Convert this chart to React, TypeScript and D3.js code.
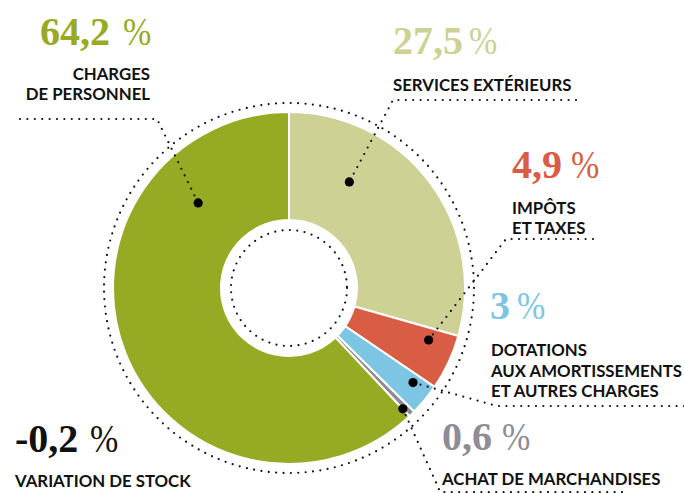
import React from 'react';
import * as d3 from 'd3';

// ---- data ----
const categories = ['services', 'impots', 'dotations', 'achat', 'personnel'];
const valueNumbers = ['27,5', '4,9', '3', '0,6', '64,2'];
const percentSign = '%';
const sliceShares = [29.4, 5.1, 2.9, 0.6, 62.0];
const categoryLabels = [
  ['SERVICES EXTÉRIEURS'],
  ['IMPÔTS', 'ET TAXES'],
  ['DOTATIONS', 'AUX AMORTISSEMENTS', 'ET AUTRES CHARGES'],
  ['ACHAT DE MARCHANDISES'],
  ['CHARGES', 'DE PERSONNEL'],
];
const stockValueNumber = '-0,2';
const stockLabel = 'VARIATION DE STOCK';

// ---- styles / layout ----
const colors = ['#cdd193', '#d95c45', '#7cc6e3', '#8e8c94', '#97aa24'];
const W = 684, H = 493;
const CX = 289, CY = 288;
const R_OUT = 176, R_IN = 68, R_RING = 185, R_INNER_DOTS = 58;

type Ann = {
  vx: number; px: number; vy: number; anchor: 'start' | 'end';
  lx: number; ly: number; lh: number;
  frac: number; r: number;
  leader: [number, number][];
};
const layout: Ann[] = [
  { vx: 393, px: 469, vy: 54, anchor: 'start', lx: 393, ly: 91, lh: 20, frac: 0.28, r: 122, leader: [[576, 100], [393, 100]] },
  { vx: 512, px: 571, vy: 178, anchor: 'start', lx: 512, ly: 214, lh: 20, frac: 0.25, r: 149, leader: [[593, 239], [506, 239]] },
  { vx: 490, px: 517, vy: 319, anchor: 'start', lx: 491, ly: 356, lh: 20.5, frac: 0.3, r: 156, leader: [[684, 406], [497, 406]] },
  { vx: 442, px: 502, vy: 450, anchor: 'start', lx: 442, ly: 485, lh: 20, frac: 0.95, r: 166, leader: [[622, 492], [440, 492], [438, 487]] },
  { vx: 40, px: 123, vy: 45, anchor: 'end', lx: 150, ly: 80, lh: 20, frac: 0.79, r: 124.5, leader: [[20, 119], [157, 119]] },
];
const stockLayout = { vx: 15, px: 90, vy: 452, lx: 15, ly: 487 };

const SERIF = '"Liberation Serif", "DejaVu Serif", serif';
const SANS = 'Lato, "Open Sans", "Noto Sans", sans-serif';
const VAL_SIZE = 40;
const LAB_SIZE = 16.8;
const DOTTED = { stroke: '#111', strokeWidth: 2.2, strokeDasharray: '0 7.4', strokeLinecap: 'round' as const, fill: 'none' };

function Value({ x, px, y, num, color }: { x: number; px: number; y: number; num: string; color: string }) {
  return (
    <g>
      <text x={x} y={y} fill={color} fontFamily={SERIF} fontWeight={700} fontSize={VAL_SIZE}>{num}</text>
      <text transform={`translate(${px},${y}) scale(0.85,1)`} fill={color} fontFamily={SERIF} fontWeight={400} fontSize={VAL_SIZE}>
        {percentSign}
      </text>
    </g>
  );
}

export default function App() {
  const pie = d3.pie<number>().sort(null).value((d) => d).startAngle(0).endAngle(2 * Math.PI);
  const arcs = pie(sliceShares);
  const arc = d3.arc<d3.PieArcDatum<number>>().innerRadius(R_IN).outerRadius(R_OUT);
  const line = d3.line();

  return (
    <svg width={W} height={H} style={{ position: 'absolute', left: 0, top: 0, background: '#fff' }}>
      <circle cx={CX} cy={CY} r={R_RING} {...DOTTED} />
      <g transform={`translate(${CX},${CY})`}>
        {arcs.map((a, i) => (
          <path key={categories[i]} d={arc(a) || ''} fill={colors[i]} stroke="#fff" strokeWidth={2} />
        ))}
        <circle r={R_INNER_DOTS} {...DOTTED} />
      </g>
      {arcs.map((a, i) => {
        const L = layout[i];
        const ang = a.startAngle + L.frac * (a.endAngle - a.startAngle);
        const dx = CX + L.r * Math.sin(ang);
        const dy = CY - L.r * Math.cos(ang);
        const pts: [number, number][] = [...L.leader, [dx, dy]];
        return (
          <g key={'ann' + i}>
            <path d={line(pts) || ''} {...DOTTED} />
            <circle cx={dx} cy={dy} r={4.6} fill="#000" />
            <Value x={L.vx} px={L.px} y={L.vy} num={valueNumbers[i]} color={colors[i]} />
            {categoryLabels[i].map((t, j) => (
              <text key={j} x={L.lx} y={L.ly + j * L.lh} textAnchor={L.anchor} fill="#111" fontFamily={SANS} fontWeight={700} fontSize={LAB_SIZE}>
                {t}
              </text>
            ))}
          </g>
        );
      })}
      <Value x={stockLayout.vx} px={stockLayout.px} y={stockLayout.vy} num={stockValueNumber} color="#111" />
      <text x={stockLayout.lx} y={stockLayout.ly} fill="#111" fontFamily={SANS} fontWeight={700} fontSize={LAB_SIZE}>{stockLabel}</text>
    </svg>
  );
}
